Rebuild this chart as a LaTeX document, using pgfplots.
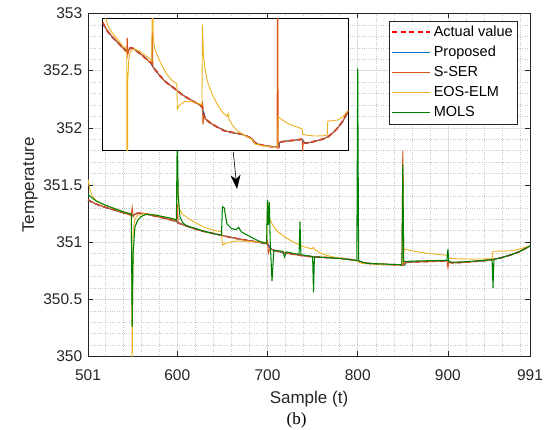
\documentclass[border=0pt]{standalone}
\usepackage{pgfplots}
\pgfplotsset{compat=1.18}
\usepackage{pgfplotstable}
\usetikzlibrary{arrows.meta}
\usepackage{fontspec}
\setmainfont{Liberation Sans}
\newfontfamily\seriffont{Liberation Serif}
\definecolor{mblue}{rgb}{0,0.447,0.741}
\definecolor{morange}{rgb}{0.85,0.325,0.098}
\definecolor{myellow}{rgb}{0.929,0.694,0.125}
\definecolor{mgreen}{rgb}{0,0.5,0}
\definecolor{axgray}{rgb}{0.15,0.15,0.15}
\definecolor{gridmaj}{rgb}{0.87,0.87,0.87}
\definecolor{gridmin}{rgb}{0.78,0.78,0.78}

\pgfplotstableread{
x y
501 351.370
505 351.352
510 351.333
515 351.318
520 351.305
530 351.282
540 351.258
548 351.240
550 351.234
552 351.240
556 351.254
562 351.252
570 351.238
580 351.220
590 351.200
598 351.184
602 351.165
606 351.154
615 351.128
625 351.102
635 351.085
648 351.062
660 351.040
670 351.026
680 351.012
692 350.998
700 350.984
703 350.950
706 350.930
712 350.918
720 350.906
730 350.892
744 350.876
760 350.868
779 350.860
790 350.850
799 350.840
803 350.825
810 350.815
820 350.810
835 350.804
850 350.800
852 350.800
854 350.824
865 350.828
880 350.832
895 350.836
900 350.838
902 350.824
905 350.819
915 350.823
924 350.828
940 350.838
951 350.849
960 350.866
971 350.892
980 350.920
991 350.967
}\actual

\pgfplotstableread{
x y
501 351.368
505 351.351
510 351.334
520 351.304
530 351.281
540 351.257
548 351.241
550 351.236
552 351.241
556 351.253
562 351.251
570 351.237
580 351.221
590 351.201
598 351.183
602 351.166
606 351.153
615 351.127
625 351.103
635 351.084
648 351.061
660 351.041
670 351.025
680 351.013
692 350.997
700 350.983
703 350.951
706 350.931
712 350.917
720 350.905
730 350.893
744 350.877
760 350.867
779 350.859
790 350.851
799 350.839
803 350.826
810 350.816
820 350.809
835 350.805
850 350.801
852 350.801
854 350.823
865 350.829
880 350.831
895 350.837
900 350.837
902 350.825
905 350.820
915 350.822
924 350.829
940 350.837
951 350.850
960 350.865
971 350.893
980 350.919
991 350.966
}\proposed

\pgfplotstableread{
x y
501 351.372
505 351.353
510 351.334
520 351.306
530 351.283
540 351.257
548 351.238
549 351.236
550 351.300
551 351.222
553 351.245
556 351.254
562 351.252
570 351.238
580 351.220
590 351.200
599 351.182
600 351.330
601 351.166
606 351.154
615 351.128
625 351.102
635 351.085
648 351.062
660 351.040
670 351.026
680 351.012
692 350.998
699 350.986
700 351.010
701 350.905
703 350.945
706 350.930
712 350.918
720 350.906
730 350.892
744 350.876
760 350.868
779 350.860
790 350.850
799 350.840
803 350.825
810 350.815
820 350.810
835 350.804
849 350.801
850 351.800
851 350.805
853 350.822
854 350.824
865 350.828
880 350.832
895 350.836
899 350.838
900 350.780
901 350.824
905 350.819
915 350.823
924 350.828
940 350.838
951 350.849
960 350.866
971 350.892
980 350.920
991 350.967
}\sser

\pgfplotstableread{
x y
501 351.550
503 351.460
506 351.400
510 351.365
515 351.340
520 351.323
530 351.295
540 351.265
549 351.248
550 349.900
551 351.100
553 351.200
556 351.235
560 351.245
566 351.248
575 351.238
585 351.222
595 351.205
599 351.195
600 351.600
602 351.300
605 351.250
610 351.220
620 351.170
630 351.130
640 351.105
649 351.090
650 350.975
655 350.995
665 351.010
680 351.008
690 351.002
699 350.995
700 351.360
702 351.220
705 351.160
710 351.100
720 351.040
730 350.995
740 350.960
749 350.942
751 350.955
753 350.930
760 350.900
770 350.875
780 350.860
790 350.848
800 350.835
805 350.815
820 350.808
840 350.802
850 350.800
851 350.940
860 350.925
870 350.910
880 350.900
890 350.892
899 350.885
900 350.860
910 350.855
925 350.852
940 350.853
949 350.856
950 350.920
960 350.922
971 350.926
980 350.940
991 350.970
}\eos

\pgfplotstableread{
x y
501 351.420
505 351.390
510 351.360
520 351.325
530 351.295
540 351.265
549 351.245
550 350.260
551 350.900
553 351.130
556 351.190
560 351.225
566 351.245
575 351.238
585 351.222
595 351.205
599 351.192
600 352.000
601 351.400
603 351.220
606 351.170
610 351.145
620 351.120
630 351.095
640 351.075
649 351.062
650 351.310
652 351.300
655 351.160
660 351.120
665 351.110
668 351.130
671 351.090
678 351.060
685 351.030
692 351.005
699 350.990
700 351.370
701 351.150
702 351.350
703 351.000
705 350.660
707 350.930
712 350.925
717 350.920
719 350.870
721 350.915
730 350.900
735 350.895
736 351.180
737 350.890
745 350.880
750 350.875
751 350.560
752 350.870
760 350.868
780 350.858
790 350.848
799 350.840
800 352.520
801 350.840
803 350.830
810 350.815
830 350.808
849 350.802
850 351.680
851 350.830
860 350.834
880 350.838
899 350.842
900 350.940
901 350.830
903 350.825
910 350.825
930 350.834
949 350.848
950 350.600
951 350.850
960 350.866
971 350.892
980 350.920
991 350.967
}\mols

\begin{document}
\begin{tikzpicture}
\useasboundingbox (-88pt,-73.5pt) rectangle (466pt,356.5pt);
\begin{axis}[
  name=main, at={(0pt,0pt)}, anchor=south west,
  scale only axis, width=442pt, height=343pt,
  xmin=501, xmax=991, ymin=350, ymax=353,
  xtick={501,600,700,800,900,991},
  ytick={350,350.5,351,351.5,352,352.5,353},
  minor xtick={520,540,...,980},
  minor ytick={350.1,350.2,350.3,350.4,350.6,350.7,350.8,350.9,351.1,351.2,351.3,351.4,351.6,351.7,351.8,351.9,352.1,352.2,352.3,352.4,352.6,352.7,352.8,352.9},
  grid=both,
  major grid style={color=gridmaj, line width=0.5pt},
  minor grid style={color=gridmin, dotted, line width=0.5pt},
  tick align=inside, major tick length=5pt, minor tick length=0pt,
  axis line style={axgray, line width=0.8pt},
  tick style={axgray, line width=0.6pt},
  /pgf/number format/assume math mode=true,
  ticklabel style={font=\fontsize{15.5}{18}\selectfont, text=axgray},
  xticklabel style={yshift=-10pt},
  yticklabel style={xshift=-2.3pt},
  xlabel={Sample (t)}, ylabel={Temperature},
  label style={font=\fontsize{17}{20}\selectfont, text=axgray},
  xlabel style={at={(axis description cs:0.5,0)}, anchor=north, yshift=-31pt},
  ylabel style={at={(axis description cs:-0.106,0.5)}, anchor=south},
  legend cell align=left,
  legend image code/.code={\draw[#1] (0pt,0pt) -- (38pt,0pt);},
  legend style={at={(1,1)}, anchor=north east, xshift=-12.3pt, yshift=-7.2pt,
    draw=axgray, fill=white, font=\fontsize{14.5}{17}\selectfont,
    inner xsep=2pt, inner ysep=1.5pt, row sep=0pt,
    nodes={inner sep=2.75pt, text height=11pt, text depth=3.5pt}},
]
\addlegendimage{draw=red, line width=2pt, dash pattern=on 5pt off 3.5pt}
\addlegendimage{draw=mblue, line width=1.3pt}
\addlegendimage{draw=morange, line width=1.3pt}
\addlegendimage{draw=myellow, line width=1.3pt}
\addlegendimage{draw=mgreen, line width=1.3pt}
\legend{Actual value, Proposed, S-SER, EOS-ELM, MOLS}
\addplot[forget plot, red, line width=1.6pt, dash pattern=on 5pt off 3.5pt] table {\actual};
\addplot[forget plot, mblue, line width=1pt] table {\proposed};
\addplot[forget plot, morange, line width=1pt] table {\sser};
\addplot[forget plot, myellow, line width=0.9pt] table {\eos};
\addplot[forget plot, mgreen, line width=1.05pt] table {\mols};
\draw[-{Stealth[length=14pt,width=10pt,inset=4pt]}, line width=0.6pt, black]
  (axis cs:662,351.79) -- (axis cs:666.2,351.465);
\end{axis}
\begin{axis}[
  at={(14.7pt,338.3pt)}, anchor=north west,
  scale only axis, width=245.6pt, height=132.5pt,
  xmin=501, xmax=991, ymin=350.785, ymax=351.39,
  ticks=none,
  axis background/.style={fill=white},
  axis line style={black, line width=0.8pt},
]
\addplot[red, line width=1.8pt, dash pattern=on 5pt off 3.5pt] table {\actual};
\addplot[mblue, line width=1pt] table {\proposed};
\addplot[morange, line width=1pt] table {\sser};
\addplot[myellow, line width=0.9pt] table {\eos};
\end{axis}
\node[font=\seriffont\fontsize{17}{20}\selectfont] at (208.5pt,-63.5pt) {(b)};
\end{tikzpicture}
\end{document}
